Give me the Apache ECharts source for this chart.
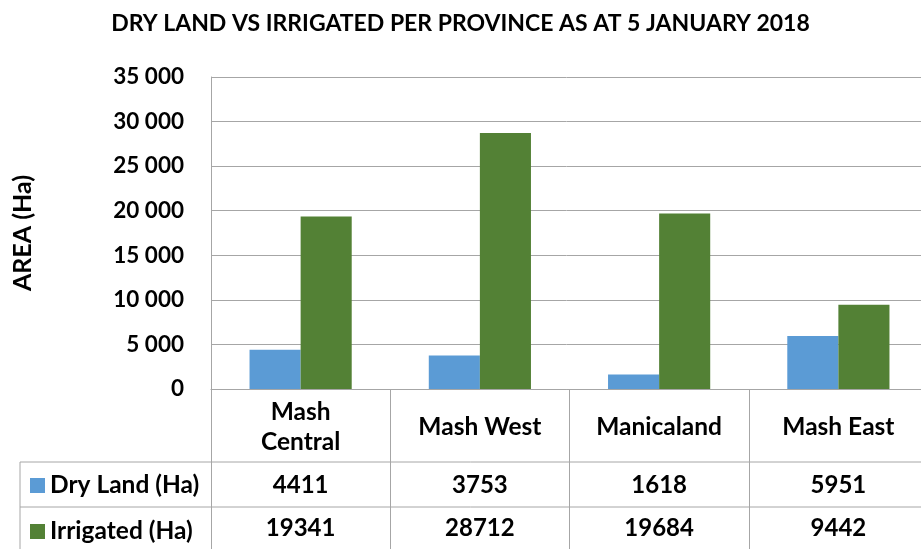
<!DOCTYPE html>
<html><head><meta charset="utf-8">
<script src="https://cdn.jsdelivr.net/npm/echarts@6/dist/echarts.min.js"></script>
<style>html,body{margin:0;padding:0;background:#fff}#c{width:921px;height:549px}</style>
</head><body><div id="c"></div>
<script>
const chartTitle = 'DRY LAND VS IRRIGATED PER PROVINCE AS AT 5 JANUARY 2018';
const yAxisName = 'AREA (Ha)';
const categories = ['Mash\nCentral', 'Mash West', 'Manicaland', 'Mash East'];
const seriesNames = ['Dry Land (Ha)', 'Irrigated (Ha)'];
const dryLand = [4411, 3753, 1618, 5951];
const irrigated = [19341, 28712, 19684, 9442];
const yMin = 0, yMax = 35000, yStep = 5000;

const FONT = 'Lato';
const GRAY = '#a6a6a6';
const G = {left: 211, right: -7, top: 77, bottom: 160, outerBoundsMode: 'none', containLabel: false};
const H = 549, W = 921;
const rowLine1 = 462, rowLine2 = 507, tableLeft = 20;
const fmt = v => String(v).replace(/\B(?=(\d{3})+(?!\d))/g, ' ');

const chart = echarts.init(document.getElementById('c'), null, {renderer: 'canvas'});
const bold = {fontFamily: FONT, fontWeight: 'bold', color: '#000'};
const valueAxis = (arr, margin) => ({
  type: 'category', data: categories, position: 'bottom', gridIndex: 0,
  axisLine: {show: false}, axisTick: {show: false}, splitLine: {show: false},
  axisLabel: Object.assign({}, bold, {fontSize: 24, interval: 0, margin: margin, verticalAlign: 'middle',
    formatter: (v, i) => String(arr[i])})
});
chart.setOption({
  animation: false,
  backgroundColor: '#fff',
  title: {text: chartTitle, left: 'center', top: 11, padding: 0,
    textStyle: Object.assign({}, bold, {fontSize: 23, lineHeight: 26})},
  legend: {orient: 'vertical', left: 30, top: 473, padding: 0, itemGap: 21,
    itemWidth: 15, itemHeight: 15, icon: 'rect', selectedMode: false,
    textStyle: Object.assign({}, bold, {fontSize: 24.5, lineHeight: 24}),
    data: seriesNames},
  grid: G,
  xAxis: [
    {type: 'category', data: categories, position: 'bottom',
      axisLine: {show: true, lineStyle: {color: GRAY, width: 1}},
      axisTick: {show: true, length: 170, lineStyle: {color: GRAY, width: 1}},
      axisLabel: Object.assign({}, bold, {fontSize: 24.5, lineHeight: 30, interval: 0, margin: 38, verticalAlign: 'middle'})},
    valueAxis(dryLand, 96),
    valueAxis(irrigated, 139)
  ],
  yAxis: {type: 'value', min: yMin, max: yMax, interval: yStep,
    name: yAxisName, nameLocation: 'middle', nameRotate: 90, nameGap: 176,
    nameTextStyle: Object.assign({}, bold, {fontSize: 25}),
    axisLine: {show: true, lineStyle: {color: GRAY}},
    axisTick: {show: false},
    splitLine: {show: true, lineStyle: {color: GRAY, width: 1}},
    axisLabel: Object.assign({}, bold, {fontSize: 22.5, margin: 27, formatter: v => fmt(v)})},
  series: [
    {name: seriesNames[0], type: 'bar', data: dryLand, barGap: '0%', barCategoryGap: '43%',
      itemStyle: {color: '#5b9bd5'}},
    {name: seriesNames[1], type: 'bar', data: irrigated, barGap: '0%', barCategoryGap: '43%',
      itemStyle: {color: '#538135'}}
  ],
  graphic: [
    {type: 'line', shape: {x1: tableLeft, y1: rowLine1, x2: W, y2: rowLine1}, style: {stroke: GRAY, lineWidth: 1}},
    {type: 'line', shape: {x1: tableLeft, y1: rowLine2, x2: W, y2: rowLine2}, style: {stroke: GRAY, lineWidth: 1}},
    {type: 'line', shape: {x1: tableLeft, y1: rowLine1, x2: tableLeft, y2: H}, style: {stroke: GRAY, lineWidth: 1}}
  ]
});
</script></body></html>
